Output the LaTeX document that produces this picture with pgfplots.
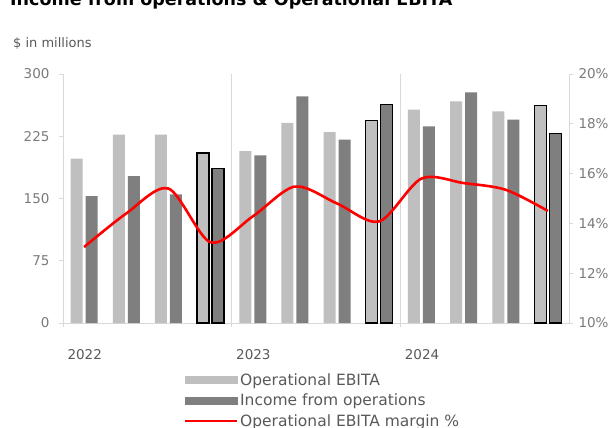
\documentclass[border=0pt]{standalone}
\usepackage{fontspec}
\setmainfont{DejaVu Sans}
\usepackage{pgfplots}
\pgfplotsset{compat=1.18}
\definecolor{barlight}{HTML}{BFBFBF}
\definecolor{bardark}{HTML}{7F7F7F}
\definecolor{gridgrey}{HTML}{D9D9D9}
\definecolor{labgrey}{HTML}{7A7A7A}
\definecolor{txtgrey}{HTML}{595959}
\begin{document}
\begin{tikzpicture}
\begin{axis}[
  at={(63bp,-323bp)}, anchor=south west, scale only axis,
  width=506bp, height=249bp,
  xmin=-0.5, xmax=11.5, ymin=0, ymax=300,
  axis x line*=bottom, axis y line*=left,
  axis line style={draw=gridgrey, line width=0.8bp},
  ytick={0,75,150,225,300},
  xtick={-0.5,3.5,7.5}, xticklabels={2022,2023,2024},
  xmajorgrids, grid style={draw=gridgrey, line width=0.8bp},
  tick align=outside, major tick length=4bp,
  tick style={draw=gridgrey, line width=0.8bp},
  ybar, bar width=12bp,
  /pgf/number format/assume math mode=true,
  ticklabel style={font=\fontsize{13.5bp}{16bp}\selectfont, text=labgrey},
  yticklabel style={xshift=-6bp},
  xticklabel style={anchor=north west, xshift=1bp, yshift=-19bp, text=txtgrey},
]
\addplot[fill=barlight, draw=none, bar shift=-7.5bp] coordinates
 {(0,198) (1,227) (2,227) (4,207) (5,241) (6,230) (8,257) (9,267) (10,255)};
\addplot[fill=bardark, draw=none, bar shift=7.5bp] coordinates
 {(0,153) (1,177) (2,155) (4,202) (5,273) (6,221) (8,237) (9,278) (10,245)};
\addplot[fill=barlight, draw=black, line width=1.3bp, bar shift=-7.5bp] coordinates
 {(3,205) (7,244) (11,262)};
\addplot[fill=bardark, draw=black, line width=1.3bp, bar shift=7.5bp] coordinates
 {(3,186) (7,263) (11,228)};
\end{axis}
\begin{axis}[
  at={(63bp,-323bp)}, anchor=south west, scale only axis,
  width=506bp, height=249bp,
  xmin=-0.5, xmax=11.5, ymin=10, ymax=20,
  axis x line=none, axis y line*=right,
  axis line style={draw=gridgrey, line width=0.8bp},
  ytick={10,12,14,16,18,20},
  yticklabels={10\%,12\%,14\%,16\%,18\%,20\%},
  tick align=outside, major tick length=4bp,
  tick style={draw=gridgrey, line width=0.8bp},
  ticklabel style={font=\fontsize{13.5bp}{16bp}\selectfont, text=labgrey},
  yticklabel style={xshift=2bp},
  legend style={at={(0.239,-0.195)}, anchor=north west, draw=none, fill=none,
    font=\fontsize{15.5bp}{17bp}\selectfont, text=txtgrey, row sep=4.5bp,
    inner sep=0pt, nodes={inner xsep=2bp, inner ysep=1.5bp}},
  legend cell align=left,
]
\addlegendimage{legend image code/.code={\fill[barlight] (0bp,-3.4bp) rectangle (52bp,3.4bp);}}
\addlegendentry{Operational EBITA}
\addlegendimage{legend image code/.code={\fill[bardark] (0bp,-3.4bp) rectangle (52bp,3.4bp);}}
\addlegendentry{Income from operations}
\addplot[red, line width=2.6bp, smooth, no markers,
  legend image code/.code={\draw[red, line width=2bp] (0bp,0bp) -- (52bp,0bp);}] coordinates
 {(0,13.05) (1,14.4) (2,15.4) (3,13.24) (4,14.28) (5,15.48) (6,14.8) (7,14.08) (8,15.8) (9,15.62) (10,15.35) (11,14.5)};
\addlegendentry{Operational EBITA margin \%}
\end{axis}
\node[anchor=base west, font=\bfseries\fontsize{17.5bp}{20bp}\selectfont, inner sep=0pt] at (10bp,-5bp)
 {Income from operations \& Operational EBITA};
\node[anchor=west, font=\fontsize{13bp}{15bp}\selectfont, text=txtgrey, inner sep=0pt] at (13bp,-44bp)
 {\$ in millions};
\pgfresetboundingbox
\path[use as bounding box] (0,0) rectangle (614bp,-428bp);
\end{tikzpicture}
\end{document}
